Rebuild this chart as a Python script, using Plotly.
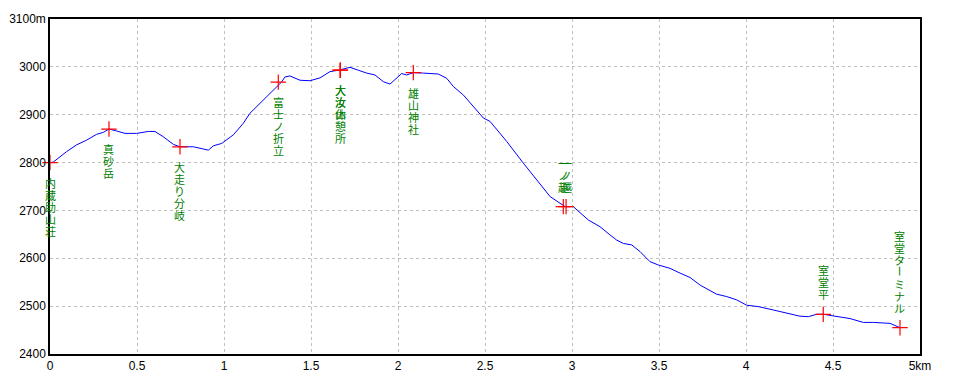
import plotly.graph_objects as go

# Elevation profile (distance km, elevation m)
dist_km = [0.000, 0.019, 0.096, 0.153, 0.211, 0.268, 0.306, 0.339, 0.383, 0.431,
           0.498, 0.565, 0.603, 0.651, 0.709, 0.747, 0.824, 0.862, 0.910, 0.939,
           0.987, 1.054, 1.111, 1.149, 1.188, 1.245, 1.303, 1.330, 1.351, 1.379,
           1.437, 1.494, 1.552, 1.609, 1.657, 1.724, 1.772, 1.820, 1.868, 1.916,
           1.954, 1.992, 2.021, 2.050, 2.088, 2.146, 2.232, 2.280, 2.318, 2.376,
           2.433, 2.491, 2.529, 2.586, 2.625, 2.720, 2.797, 2.874, 2.960, 3.007,
           3.094, 3.161, 3.218, 3.257, 3.295, 3.343, 3.391, 3.448, 3.496, 3.563,
           3.621, 3.678, 3.736, 3.793, 3.831, 3.889, 3.947, 4.004, 4.071, 4.157,
           4.234, 4.310, 4.358, 4.406, 4.444, 4.521, 4.598, 4.674, 4.732, 4.828,
           4.856, 4.885]
elev_m = [2800, 2801, 2823, 2837, 2847, 2859, 2863, 2870, 2866, 2861,
          2861, 2865, 2865, 2854, 2838, 2833, 2833, 2830, 2826, 2835,
          2840, 2858, 2882, 2903, 2917, 2938, 2959, 2968, 2979, 2981,
          2972, 2971, 2977, 2990, 2993, 2999, 2993, 2987, 2983, 2969,
          2964, 2976, 2986, 2983, 2988, 2987, 2985, 2976, 2959, 2941,
          2917, 2893, 2886, 2861, 2844, 2799, 2764, 2729, 2708, 2708,
          2680, 2666, 2649, 2638, 2631, 2628, 2614, 2593, 2586, 2579,
          2569, 2560, 2544, 2532, 2525, 2520, 2513, 2502, 2499, 2492,
          2485, 2479, 2478, 2483, 2483, 2478, 2474, 2466, 2466, 2464,
          2460, 2455]

# Waypoints
wp_names = ["内蔵助山荘", "真砂岳", "大走り分岐", "富士ノ折立", "大汝山", "大汝休憩所",
            "雄山神社", "一ノ越", "一ノ越", "室堂平", "室堂ターミナル"]
wp_dist = [0.000, 0.339, 0.747, 1.312, 1.667, 1.669, 2.088, 2.950, 2.966, 4.444, 4.885]
wp_elev = [2800, 2870, 2833, 2968, 2993, 2993, 2988, 2708, 2708, 2483, 2455]

# Axis ticks
x_tickvals = [0, 0.5, 1, 1.5, 2, 2.5, 3, 3.5, 4, 4.5, 5]
x_ticktext = ["0", "0.5", "1", "1.5", "2", "2.5", "3", "3.5", "4", "4.5", "5km"]
y_tickvals = [2400, 2500, 2600, 2700, 2800, 2900, 3000, 3100]
y_ticktext = ["2400", "2500", "2600", "2700", "2800", "2900", "3000", "3100m"]

fig = go.Figure()
fig.add_trace(go.Scatter(x=dist_km, y=elev_m, mode="lines",
                         line=dict(color="#0000ff", width=1), hoverinfo="skip"))
fig.add_trace(go.Scatter(x=wp_dist, y=wp_elev, mode="markers",
                         marker=dict(symbol="cross-thin", size=11,
                                     line=dict(color="#ff0000", width=1.2)),
                         hoverinfo="skip", cliponaxis=False))

STEP = 12
OFFSET = 20
annotations = []
for name, d, e in zip(wp_names, wp_dist, wp_elev):
    n = len(name)
    above = e < 2750
    for i, ch in enumerate(name):
        if above:
            ys = OFFSET + STEP * (n - 1 - i)
        else:
            ys = -(OFFSET + STEP * i)
        annotations.append(dict(
            x=d, y=e, xref="x", yref="y", text=ch, showarrow=False,
            yshift=ys, textangle=90 if ch == "ー" else 0,
            font=dict(family="Noto Sans CJK JP", size=11, color="#008000"),
        ))

grid = dict(showgrid=True, gridcolor="#c0c0c0", griddash="3px,3px", gridwidth=1)
tickfont = dict(family="Liberation Sans Narrow, Liberation Sans, Arial", size=12, color="#000000")

fig.update_layout(
    width=960, height=384,
    margin=dict(l=50, r=40, t=19, b=30),
    paper_bgcolor="white", plot_bgcolor="white",
    showlegend=False,
    annotations=annotations,
    xaxis=dict(range=[0, 5], tickvals=x_tickvals, ticktext=x_ticktext,
               showline=True, linecolor="black", linewidth=1.5, mirror=True,
               zeroline=False, ticks="", tickfont=tickfont, automargin=False, **grid),
    yaxis=dict(range=[2400, 3100], tickvals=y_tickvals, ticktext=y_ticktext,
               showline=True, linecolor="black", linewidth=1.5, mirror=True,
               zeroline=False, ticks="", tickfont=tickfont, automargin=False, **grid),
)

fig.write_html("out.html")
